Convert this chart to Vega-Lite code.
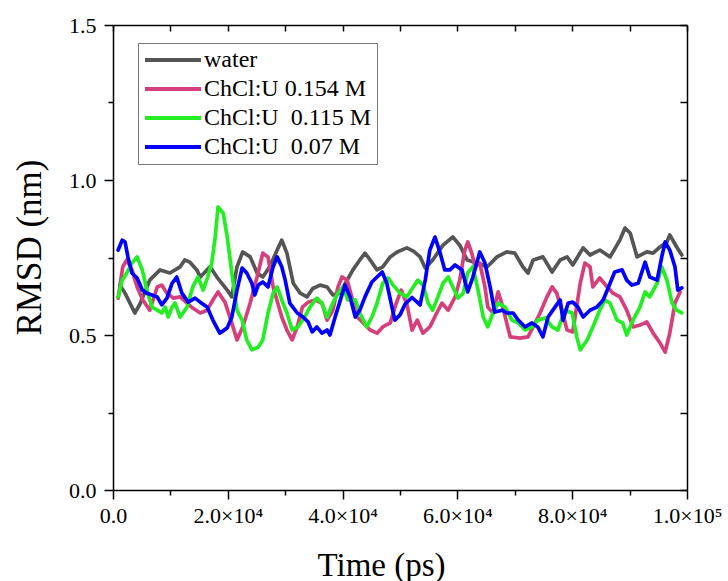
{
  "$schema": "https://vega.github.io/schema/vega-lite/v6.json",
  "width": 574,
  "height": 465,
  "autosize": {"type": "none"},
  "padding": {"left": 113, "top": 25, "right": 41, "bottom": 91},
  "background": "white",
  "config": {
    "view": {"stroke": null},
    "font": "Liberation Serif",
    "axis": {
      "labelFont": "Liberation Serif",
      "titleFont": "Liberation Serif",
      "domainColor": "#000",
      "tickColor": "#000",
      "labelColor": "#000",
      "titleColor": "#000",
      "grid": false,
      "domainWidth": 1.5,
      "tickWidth": 1.5,
      "titleFontWeight": "normal"
    }
  },
  "datasets": {
    "rmsd": [
      {"s":"water","t":1200,"v":0.661},{"s":"water","t":2100,"v":0.635},{"s":"water","t":3800,"v":0.571},{"s":"water","t":4700,"v":0.60},{"s":"water","t":6400,"v":0.677},{"s":"water","t":8200,"v":0.71},{"s":"water","t":9900,"v":0.70},{"s":"water","t":11700,"v":0.72},{"s":"water","t":12500,"v":0.742},{"s":"water","t":13400,"v":0.735},{"s":"water","t":14600,"v":0.71},{"s":"water","t":15200,"v":0.687},{"s":"water","t":16400,"v":0.71},{"s":"water","t":16900,"v":0.72},{"s":"water","t":18100,"v":0.687},{"s":"water","t":19900,"v":0.645},{"s":"water","t":20700,"v":0.623},{"s":"water","t":21600,"v":0.72},{"s":"water","t":22600,"v":0.768},{"s":"water","t":23900,"v":0.752},{"s":"water","t":25100,"v":0.70},{"s":"water","t":26100,"v":0.687},{"s":"water","t":27300,"v":0.72},{"s":"water","t":28600,"v":0.774},{"s":"water","t":29400,"v":0.806},{"s":"water","t":30300,"v":0.764},{"s":"water","t":31400,"v":0.667},{"s":"water","t":32600,"v":0.635},{"s":"water","t":33800,"v":0.623},{"s":"water","t":34800,"v":0.65},{"s":"water","t":36100,"v":0.661},{"s":"water","t":37300,"v":0.655},{"s":"water","t":38300,"v":0.629},{"s":"water","t":39500,"v":0.635},{"s":"water","t":40800,"v":0.677},{"s":"water","t":41800,"v":0.71},{"s":"water","t":43000,"v":0.742},{"s":"water","t":43900,"v":0.764},{"s":"water","t":44800,"v":0.742},{"s":"water","t":46000,"v":0.71},{"s":"water","t":47000,"v":0.72},{"s":"water","t":48300,"v":0.752},{"s":"water","t":49500,"v":0.768},{"s":"water","t":51200,"v":0.781},{"s":"water","t":52400,"v":0.77},{"s":"water","t":53500,"v":0.752},{"s":"water","t":54400,"v":0.716},{"s":"water","t":55700,"v":0.742},{"s":"water","t":57500,"v":0.79},{"s":"water","t":59200,"v":0.816},{"s":"water","t":60400,"v":0.79},{"s":"water","t":61700,"v":0.742},{"s":"water","t":63400,"v":0.732},{"s":"water","t":65200,"v":0.72},{"s":"water","t":66900,"v":0.752},{"s":"water","t":68600,"v":0.768},{"s":"water","t":70000,"v":0.764},{"s":"water","t":71400,"v":0.72},{"s":"water","t":72300,"v":0.70},{"s":"water","t":73200,"v":0.742},{"s":"water","t":74900,"v":0.752},{"s":"water","t":76500,"v":0.703},{"s":"water","t":77900,"v":0.742},{"s":"water","t":79100,"v":0.752},{"s":"water","t":80100,"v":0.726},{"s":"water","t":81900,"v":0.781},{"s":"water","t":83100,"v":0.758},{"s":"water","t":84800,"v":0.774},{"s":"water","t":86600,"v":0.752},{"s":"water","t":88300,"v":0.806},{"s":"water","t":89200,"v":0.845},{"s":"water","t":90100,"v":0.829},{"s":"water","t":91300,"v":0.752},{"s":"water","t":93000,"v":0.768},{"s":"water","t":94100,"v":0.764},{"s":"water","t":95300,"v":0.784},{"s":"water","t":96500,"v":0.80},{"s":"water","t":97000,"v":0.823},{"s":"water","t":98200,"v":0.784},{"s":"water","t":99100,"v":0.758},

      {"s":"0.154 M","t":900,"v":0.619},{"s":"0.154 M","t":1700,"v":0.72},{"s":"0.154 M","t":2400,"v":0.742},{"s":"0.154 M","t":3300,"v":0.71},{"s":"0.154 M","t":4200,"v":0.655},{"s":"0.154 M","t":5200,"v":0.613},{"s":"0.154 M","t":6400,"v":0.58},{"s":"0.154 M","t":7700,"v":0.655},{"s":"0.154 M","t":8500,"v":0.661},{"s":"0.154 M","t":9400,"v":0.635},{"s":"0.154 M","t":10500,"v":0.619},{"s":"0.154 M","t":11700,"v":0.623},{"s":"0.154 M","t":12900,"v":0.603},{"s":"0.154 M","t":13900,"v":0.587},{"s":"0.154 M","t":15200,"v":0.571},{"s":"0.154 M","t":16400,"v":0.58},{"s":"0.154 M","t":17400,"v":0.613},{"s":"0.154 M","t":18300,"v":0.639},{"s":"0.154 M","t":19500,"v":0.606},{"s":"0.154 M","t":20700,"v":0.539},{"s":"0.154 M","t":21600,"v":0.484},{"s":"0.154 M","t":22600,"v":0.526},{"s":"0.154 M","t":23900,"v":0.603},{"s":"0.154 M","t":25100,"v":0.687},{"s":"0.154 M","t":26100,"v":0.764},{"s":"0.154 M","t":27000,"v":0.752},{"s":"0.154 M","t":27900,"v":0.655},{"s":"0.154 M","t":29400,"v":0.558},{"s":"0.154 M","t":30300,"v":0.516},{"s":"0.154 M","t":31200,"v":0.484},{"s":"0.154 M","t":32100,"v":0.526},{"s":"0.154 M","t":33000,"v":0.59},{"s":"0.154 M","t":34000,"v":0.606},{"s":"0.154 M","t":35200,"v":0.613},{"s":"0.154 M","t":36400,"v":0.603},{"s":"0.154 M","t":37300,"v":0.548},{"s":"0.154 M","t":38300,"v":0.58},{"s":"0.154 M","t":39200,"v":0.655},{"s":"0.154 M","t":39900,"v":0.687},{"s":"0.154 M","t":40800,"v":0.677},{"s":"0.154 M","t":41600,"v":0.623},{"s":"0.154 M","t":42500,"v":0.558},{"s":"0.154 M","t":43600,"v":0.539},{"s":"0.154 M","t":44800,"v":0.516},{"s":"0.154 M","t":46000,"v":0.506},{"s":"0.154 M","t":47000,"v":0.526},{"s":"0.154 M","t":48300,"v":0.539},{"s":"0.154 M","t":49300,"v":0.60},{"s":"0.154 M","t":50200,"v":0.645},{"s":"0.154 M","t":51200,"v":0.60},{"s":"0.154 M","t":52100,"v":0.516},{"s":"0.154 M","t":53000,"v":0.548},{"s":"0.154 M","t":54000,"v":0.506},{"s":"0.154 M","t":55200,"v":0.526},{"s":"0.154 M","t":56400,"v":0.571},{"s":"0.154 M","t":57300,"v":0.603},{"s":"0.154 M","t":58400,"v":0.58},{"s":"0.154 M","t":59600,"v":0.623},{"s":"0.154 M","t":60400,"v":0.677},{"s":"0.154 M","t":61300,"v":0.774},{"s":"0.154 M","t":61800,"v":0.80},{"s":"0.154 M","t":62500,"v":0.764},{"s":"0.154 M","t":63100,"v":0.72},{"s":"0.154 M","t":63900,"v":0.732},{"s":"0.154 M","t":64800,"v":0.655},{"s":"0.154 M","t":65300,"v":0.59},{"s":"0.154 M","t":66200,"v":0.571},{"s":"0.154 M","t":67100,"v":0.639},{"s":"0.154 M","t":67900,"v":0.59},{"s":"0.154 M","t":69200,"v":0.494},{"s":"0.154 M","t":70900,"v":0.49},{"s":"0.154 M","t":72300,"v":0.494},{"s":"0.154 M","t":73200,"v":0.526},{"s":"0.154 M","t":74400,"v":0.571},{"s":"0.154 M","t":75600,"v":0.623},{"s":"0.154 M","t":76500,"v":0.655},{"s":"0.154 M","t":77300,"v":0.635},{"s":"0.154 M","t":78200,"v":0.58},{"s":"0.154 M","t":79100,"v":0.516},{"s":"0.154 M","t":80100,"v":0.51},{"s":"0.154 M","t":81400,"v":0.667},{"s":"0.154 M","t":82200,"v":0.732},{"s":"0.154 M","t":83100,"v":0.72},{"s":"0.154 M","t":83600,"v":0.655},{"s":"0.154 M","t":84800,"v":0.684},{"s":"0.154 M","t":86100,"v":0.655},{"s":"0.154 M","t":87100,"v":0.635},{"s":"0.154 M","t":88300,"v":0.623},{"s":"0.154 M","t":89500,"v":0.58},{"s":"0.154 M","t":90600,"v":0.526},{"s":"0.154 M","t":91800,"v":0.532},{"s":"0.154 M","t":93000,"v":0.542},{"s":"0.154 M","t":94100,"v":0.506},{"s":"0.154 M","t":95300,"v":0.474},{"s":"0.154 M","t":96200,"v":0.445},{"s":"0.154 M","t":97000,"v":0.506},{"s":"0.154 M","t":97900,"v":0.603},{"s":"0.154 M","t":98800,"v":0.639},

      {"s":"0.115 M","t":900,"v":0.623},{"s":"0.115 M","t":1600,"v":0.677},{"s":"0.115 M","t":2400,"v":0.70},{"s":"0.115 M","t":3300,"v":0.732},{"s":"0.115 M","t":4200,"v":0.752},{"s":"0.115 M","t":5100,"v":0.71},{"s":"0.115 M","t":5900,"v":0.645},{"s":"0.115 M","t":6800,"v":0.59},{"s":"0.115 M","t":7700,"v":0.58},{"s":"0.115 M","t":8500,"v":0.571},{"s":"0.115 M","t":9100,"v":0.59},{"s":"0.115 M","t":9600,"v":0.558},{"s":"0.115 M","t":10300,"v":0.59},{"s":"0.115 M","t":10800,"v":0.603},{"s":"0.115 M","t":11700,"v":0.558},{"s":"0.115 M","t":12900,"v":0.59},{"s":"0.115 M","t":13900,"v":0.655},{"s":"0.115 M","t":14800,"v":0.687},{"s":"0.115 M","t":15700,"v":0.645},{"s":"0.115 M","t":16500,"v":0.687},{"s":"0.115 M","t":17200,"v":0.732},{"s":"0.115 M","t":17800,"v":0.816},{"s":"0.115 M","t":18300,"v":0.913},{"s":"0.115 M","t":19200,"v":0.893},{"s":"0.115 M","t":19900,"v":0.816},{"s":"0.115 M","t":20700,"v":0.70},{"s":"0.115 M","t":21600,"v":0.58},{"s":"0.115 M","t":22500,"v":0.548},{"s":"0.115 M","t":23300,"v":0.484},{"s":"0.115 M","t":24200,"v":0.452},{"s":"0.115 M","t":25300,"v":0.461},{"s":"0.115 M","t":26100,"v":0.484},{"s":"0.115 M","t":27000,"v":0.571},{"s":"0.115 M","t":27900,"v":0.635},{"s":"0.115 M","t":28600,"v":0.655},{"s":"0.115 M","t":29400,"v":0.613},{"s":"0.115 M","t":30300,"v":0.571},{"s":"0.115 M","t":31200,"v":0.516},{"s":"0.115 M","t":32200,"v":0.526},{"s":"0.115 M","t":33400,"v":0.558},{"s":"0.115 M","t":34300,"v":0.59},{"s":"0.115 M","t":35500,"v":0.619},{"s":"0.115 M","t":36400,"v":0.603},{"s":"0.115 M","t":37300,"v":0.558},{"s":"0.115 M","t":38300,"v":0.603},{"s":"0.115 M","t":39200,"v":0.635},{"s":"0.115 M","t":40100,"v":0.655},{"s":"0.115 M","t":40900,"v":0.613},{"s":"0.115 M","t":42200,"v":0.613},{"s":"0.115 M","t":43000,"v":0.571},{"s":"0.115 M","t":44200,"v":0.526},{"s":"0.115 M","t":45100,"v":0.558},{"s":"0.115 M","t":46000,"v":0.603},{"s":"0.115 M","t":47000,"v":0.667},{"s":"0.115 M","t":47900,"v":0.684},{"s":"0.115 M","t":48800,"v":0.661},{"s":"0.115 M","t":50000,"v":0.635},{"s":"0.115 M","t":51200,"v":0.623},{"s":"0.115 M","t":52300,"v":0.655},{"s":"0.115 M","t":53100,"v":0.677},{"s":"0.115 M","t":54000,"v":0.661},{"s":"0.115 M","t":54900,"v":0.603},{"s":"0.115 M","t":55700,"v":0.58},{"s":"0.115 M","t":56600,"v":0.623},{"s":"0.115 M","t":57500,"v":0.667},{"s":"0.115 M","t":58400,"v":0.687},{"s":"0.115 M","t":59200,"v":0.655},{"s":"0.115 M","t":60100,"v":0.619},{"s":"0.115 M","t":61000,"v":0.635},{"s":"0.115 M","t":61800,"v":0.70},{"s":"0.115 M","t":62700,"v":0.72},{"s":"0.115 M","t":63600,"v":0.645},{"s":"0.115 M","t":64500,"v":0.558},{"s":"0.115 M","t":65300,"v":0.526},{"s":"0.115 M","t":66200,"v":0.571},{"s":"0.115 M","t":67100,"v":0.603},{"s":"0.115 M","t":68300,"v":0.59},{"s":"0.115 M","t":69500,"v":0.548},{"s":"0.115 M","t":70600,"v":0.539},{"s":"0.115 M","t":71800,"v":0.516},{"s":"0.115 M","t":73000,"v":0.526},{"s":"0.115 M","t":74000,"v":0.548},{"s":"0.115 M","t":75300,"v":0.555},{"s":"0.115 M","t":76500,"v":0.526},{"s":"0.115 M","t":77500,"v":0.516},{"s":"0.115 M","t":78700,"v":0.58},{"s":"0.115 M","t":80000,"v":0.571},{"s":"0.115 M","t":80800,"v":0.494},{"s":"0.115 M","t":81400,"v":0.452},{"s":"0.115 M","t":82600,"v":0.484},{"s":"0.115 M","t":83600,"v":0.526},{"s":"0.115 M","t":84800,"v":0.58},{"s":"0.115 M","t":85700,"v":0.613},{"s":"0.115 M","t":86600,"v":0.603},{"s":"0.115 M","t":87800,"v":0.548},{"s":"0.115 M","t":88800,"v":0.539},{"s":"0.115 M","t":89500,"v":0.50},{"s":"0.115 M","t":90600,"v":0.548},{"s":"0.115 M","t":91800,"v":0.59},{"s":"0.115 M","t":92700,"v":0.639},{"s":"0.115 M","t":93500,"v":0.623},{"s":"0.115 M","t":94800,"v":0.667},{"s":"0.115 M","t":95600,"v":0.72},{"s":"0.115 M","t":96500,"v":0.677},{"s":"0.115 M","t":97400,"v":0.603},{"s":"0.115 M","t":98200,"v":0.58},{"s":"0.115 M","t":99100,"v":0.571},

      {"s":"0.07 M","t":900,"v":0.774},{"s":"0.07 M","t":1600,"v":0.806},{"s":"0.07 M","t":2100,"v":0.80},{"s":"0.07 M","t":2600,"v":0.752},{"s":"0.07 M","t":3300,"v":0.70},{"s":"0.07 M","t":4200,"v":0.684},{"s":"0.07 M","t":5100,"v":0.645},{"s":"0.07 M","t":5900,"v":0.635},{"s":"0.07 M","t":6800,"v":0.629},{"s":"0.07 M","t":7700,"v":0.623},{"s":"0.07 M","t":8500,"v":0.597},{"s":"0.07 M","t":9400,"v":0.619},{"s":"0.07 M","t":10300,"v":0.667},{"s":"0.07 M","t":11100,"v":0.687},{"s":"0.07 M","t":12000,"v":0.635},{"s":"0.07 M","t":13100,"v":0.606},{"s":"0.07 M","t":14300,"v":0.619},{"s":"0.07 M","t":15200,"v":0.606},{"s":"0.07 M","t":16400,"v":0.59},{"s":"0.07 M","t":17400,"v":0.548},{"s":"0.07 M","t":18600,"v":0.506},{"s":"0.07 M","t":19900,"v":0.523},{"s":"0.07 M","t":20700,"v":0.558},{"s":"0.07 M","t":21600,"v":0.645},{"s":"0.07 M","t":22500,"v":0.716},{"s":"0.07 M","t":23300,"v":0.70},{"s":"0.07 M","t":24200,"v":0.667},{"s":"0.07 M","t":24700,"v":0.629},{"s":"0.07 M","t":25300,"v":0.661},{"s":"0.07 M","t":26100,"v":0.671},{"s":"0.07 M","t":27000,"v":0.655},{"s":"0.07 M","t":27900,"v":0.72},{"s":"0.07 M","t":28600,"v":0.752},{"s":"0.07 M","t":29400,"v":0.72},{"s":"0.07 M","t":30000,"v":0.677},{"s":"0.07 M","t":30800,"v":0.603},{"s":"0.07 M","t":32100,"v":0.571},{"s":"0.07 M","t":33100,"v":0.558},{"s":"0.07 M","t":34000,"v":0.542},{"s":"0.07 M","t":34700,"v":0.51},{"s":"0.07 M","t":35500,"v":0.526},{"s":"0.07 M","t":36400,"v":0.506},{"s":"0.07 M","t":37300,"v":0.516},{"s":"0.07 M","t":37800,"v":0.50},{"s":"0.07 M","t":38700,"v":0.558},{"s":"0.07 M","t":39500,"v":0.606},{"s":"0.07 M","t":40400,"v":0.661},{"s":"0.07 M","t":41300,"v":0.623},{"s":"0.07 M","t":42200,"v":0.558},{"s":"0.07 M","t":43000,"v":0.58},{"s":"0.07 M","t":43900,"v":0.623},{"s":"0.07 M","t":45100,"v":0.671},{"s":"0.07 M","t":46000,"v":0.687},{"s":"0.07 M","t":46900,"v":0.703},{"s":"0.07 M","t":47700,"v":0.667},{"s":"0.07 M","t":48600,"v":0.59},{"s":"0.07 M","t":49100,"v":0.548},{"s":"0.07 M","t":50000,"v":0.565},{"s":"0.07 M","t":50900,"v":0.60},{"s":"0.07 M","t":52100,"v":0.621},{"s":"0.07 M","t":53500,"v":0.597},{"s":"0.07 M","t":54400,"v":0.677},{"s":"0.07 M","t":55200,"v":0.774},{"s":"0.07 M","t":56100,"v":0.816},{"s":"0.07 M","t":57000,"v":0.764},{"s":"0.07 M","t":57800,"v":0.71},{"s":"0.07 M","t":58700,"v":0.71},{"s":"0.07 M","t":59600,"v":0.726},{"s":"0.07 M","t":60800,"v":0.71},{"s":"0.07 M","t":61800,"v":0.639},{"s":"0.07 M","t":62700,"v":0.687},{"s":"0.07 M","t":63900,"v":0.768},{"s":"0.07 M","t":64800,"v":0.732},{"s":"0.07 M","t":65700,"v":0.655},{"s":"0.07 M","t":66500,"v":0.574},{"s":"0.07 M","t":67800,"v":0.58},{"s":"0.07 M","t":68600,"v":0.571},{"s":"0.07 M","t":69700,"v":0.571},{"s":"0.07 M","t":70600,"v":0.548},{"s":"0.07 M","t":71800,"v":0.526},{"s":"0.07 M","t":73000,"v":0.539},{"s":"0.07 M","t":74000,"v":0.526},{"s":"0.07 M","t":74900,"v":0.494},{"s":"0.07 M","t":75800,"v":0.558},{"s":"0.07 M","t":77000,"v":0.59},{"s":"0.07 M","t":77900,"v":0.613},{"s":"0.07 M","t":78400,"v":0.548},{"s":"0.07 M","t":79300,"v":0.603},{"s":"0.07 M","t":80100,"v":0.606},{"s":"0.07 M","t":81000,"v":0.59},{"s":"0.07 M","t":81900,"v":0.558},{"s":"0.07 M","t":83100,"v":0.58},{"s":"0.07 M","t":84300,"v":0.59},{"s":"0.07 M","t":85400,"v":0.613},{"s":"0.07 M","t":86600,"v":0.667},{"s":"0.07 M","t":87400,"v":0.703},{"s":"0.07 M","t":88700,"v":0.71},{"s":"0.07 M","t":89500,"v":0.677},{"s":"0.07 M","t":90400,"v":0.661},{"s":"0.07 M","t":91500,"v":0.667},{"s":"0.07 M","t":92700,"v":0.735},{"s":"0.07 M","t":93500,"v":0.687},{"s":"0.07 M","t":94800,"v":0.677},{"s":"0.07 M","t":95600,"v":0.752},{"s":"0.07 M","t":96200,"v":0.80},{"s":"0.07 M","t":97000,"v":0.774},{"s":"0.07 M","t":97900,"v":0.72},{"s":"0.07 M","t":98400,"v":0.645},{"s":"0.07 M","t":99100,"v":0.652}
    ]
  },
  "data": {"name": "rmsd"},
  "layer": [
    {
      "mark": {"type": "line", "strokeWidth": 3.7, "strokeJoin": "round", "strokeCap": "round"},
      "encoding": {
        "x": {
          "field": "t", "type": "quantitative",
          "scale": {"domain": [0, 100000], "nice": false, "zero": false},
          "axis": {
            "orient": "bottom",
            "values": [0, 10000, 20000, 30000, 40000, 50000, 60000, 70000, 80000, 90000, 100000],
            "labelExpr": "datum.value % 20000 != 0 ? '' : (datum.value == 0 ? '0.0' : (datum.value == 100000 ? '1.0×10⁵' : format(datum.value / 10000, '.1f') + '×10⁴'))",
            "tickSize": {"condition": {"test": "datum.value % 20000 == 0", "value": 9}, "value": 5},
            "labelFontSize": 22,
            "labelPadding": 6,
            "labelOverlap": false,
            "labelFlush": false,
            "labelBound": false,
            "title": "Time (ps)",
            "titleFontSize": 33,
            "titleX": 268,
            "titleY": 85,
            "titleBaseline": "alphabetic"
          }
        },
        "y": {
          "field": "v", "type": "quantitative",
          "scale": {"domain": [0, 1.5], "nice": false, "zero": false},
          "axis": {
            "orient": "left",
            "values": [0, 0.25, 0.5, 0.75, 1, 1.25, 1.5],
            "labelExpr": "(datum.value * 4) % 2 == 1 ? '' : format(datum.value, '.1f')",
            "tickSize": {"condition": {"test": "(datum.value * 4) % 2 == 0", "value": 9}, "value": 5},
            "labelFontSize": 22,
            "labelPadding": 8,
            "labelOverlap": false,
            "labelFlush": false,
            "title": "RMSD (nm)",
            "titleFontSize": 35,
            "titleAngle": -90,
            "titleX": -73,
            "titleY": 222,
            "titleBaseline": "alphabetic"
          }
        },
        "color": {
          "field": "s", "type": "nominal",
          "scale": {
            "domain": ["water", "0.154 M", "0.115 M", "0.07 M"],
            "range": ["#555555", "#D63F7B", "#22EE22", "#0000FF"]
          },
          "legend": {
            "orient": "none",
            "legendX": 25,
            "legendY": 18,
            "title": null,
            "symbolType": "stroke",
            "symbolSize": 3136,
            "symbolStrokeWidth": 4,
            "clipHeight": 24,
            "labelOffset": 1,
            "labelFont": "Liberation Serif",
            "labelFontSize": 24,
            "labelColor": "#000",
            "labelLimit": 0,
            "labelExpr": "datum.label == 'water' ? 'water' : (datum.label == '0.154 M' ? 'ChCl:U 0.154 M' : 'ChCl:U\u00a0 ' + datum.label)",
            "strokeColor": "#777777",
            "fillColor": "white",
            "padding": 5,
            "rowPadding": 5
          }
        }
      }
    },
    {
      "mark": {"type": "point", "opacity": 0},
      "encoding": {
        "x": {
          "field": "t", "type": "quantitative",
          "axis": {
            "orient": "top",
            "values": [0, 10000, 20000, 30000, 40000, 50000, 60000, 70000, 80000, 90000, 100000],
            "labels": false,
            "tickSize": -6,
            "title": null
          }
        },
        "y": {
          "field": "v", "type": "quantitative",
          "axis": {
            "orient": "right",
            "values": [0, 0.25, 0.5, 0.75, 1, 1.25, 1.5],
            "labels": false,
            "tickSize": -7,
            "title": null
          }
        }
      }
    }
  ],
  "resolve": {"axis": {"x": "independent", "y": "independent"}}
}
